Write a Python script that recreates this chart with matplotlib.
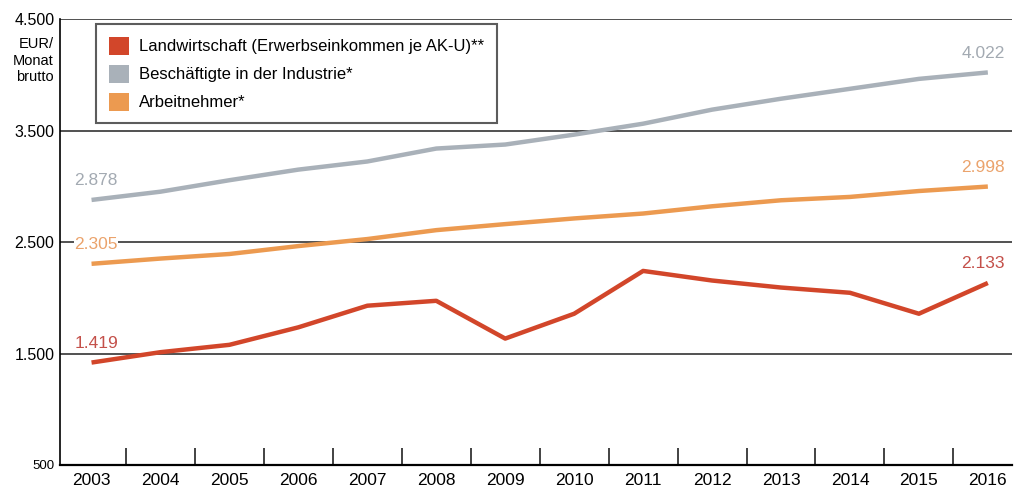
import matplotlib
matplotlib.use("Agg")
import matplotlib.pyplot as plt
from matplotlib.patches import Patch
from matplotlib.ticker import FixedLocator

plt.rcParams["font.family"] = ["Liberation Sans", "DejaVu Sans"]

years = [2003, 2004, 2005, 2006, 2007, 2008, 2009, 2010, 2011, 2012, 2013, 2014, 2015, 2016]
landwirtschaft = [1419, 1512, 1578, 1735, 1929, 1973, 1634, 1857, 2241, 2155, 2092, 2045, 1857, 2133]
industrie = [2878, 2952, 3055, 3150, 3223, 3339, 3375, 3464, 3562, 3688, 3786, 3875, 3964, 4022]
arbeitnehmer = [2305, 2352, 2393, 2464, 2527, 2607, 2661, 2712, 2756, 2821, 2875, 2905, 2958, 2998]

y_ticks = [500, 1500, 2500, 3500, 4500]
names = ["Landwirtschaft (Erwerbseinkommen je AK-U)**",
         "Beschäftigte in der Industrie*",
         "Arbeitnehmer*"]

RED = "#d2462a"
GREY = "#a9b1b9"
ORANGE = "#ec9a50"


def de(v):
    return f"{v:,}".replace(",", ".")


fig = plt.figure(figsize=(10.14, 4.91), dpi=100)
ax = fig.add_axes([0.059, 0.053, 0.939, 0.908])

for yv in y_ticks[1:]:
    ax.axhline(yv, color="#333333", linewidth=1.2, zorder=1)

series = [(landwirtschaft, RED, "#c4504a"),
          (industrie, GREY, "#a3aab2"),
          (arbeitnehmer, ORANGE, "#eba36c")]
for vals, col, lcol in series:
    ax.plot(years, vals, color=col, linewidth=3.2, solid_capstyle="butt", zorder=3)
    for x, v, ha, dx in [(years[0], vals[0], "left", -0.25), (years[-1], vals[-1], "right", 0.25)]:
        ax.text(x + dx, v + 105, de(v), color=lcol, fontsize=12.5, ha=ha, va="bottom",
                zorder=4, bbox=dict(facecolor="white", edgecolor="none", pad=0.5))

ax.set_xlim(2002.54, 2016.35)
ax.set_ylim(500, 4500)
ax.set_xticks(years)
ax.set_xticklabels([str(y) for y in years], fontsize=12.5)
ax.xaxis.set_minor_locator(FixedLocator([y + 0.5 for y in years[:-1]]))
ax.tick_params(axis="x", which="major", length=0, pad=6)
ax.tick_params(axis="x", which="minor", direction="in", length=12, width=1.2, color="#222222")

ax.set_yticks(y_ticks)
ax.set_yticklabels([de(v) for v in y_ticks], fontsize=11.5)
ax.get_yticklabels()[0].set_fontsize(9.5)
ax.tick_params(axis="y", length=0, pad=4)

for s in ["top", "right"]:
    ax.spines[s].set_visible(False)
ax.spines["left"].set_linewidth(1.2)
ax.spines["bottom"].set_linewidth(1.6)

fig.text(0.053, 0.925, "EUR/\nMonat\nbrutto", ha="right", va="top", fontsize=10.5,
         linespacing=1.25)

handles = [Patch(facecolor=c, edgecolor="none") for c in (RED, GREY, ORANGE)]
leg = ax.legend(handles, names, loc="upper left", bbox_to_anchor=(0.038, 0.988),
                fontsize=12, frameon=True, fancybox=False, handlelength=1.25,
                handleheight=1.25, handletextpad=0.6, labelspacing=0.62,
                borderpad=0.75, borderaxespad=0)
leg.get_frame().set_edgecolor("#333333")
leg.get_frame().set_linewidth(1.5)
leg.set_zorder(5)

fig.savefig("out.png", dpi=100)
